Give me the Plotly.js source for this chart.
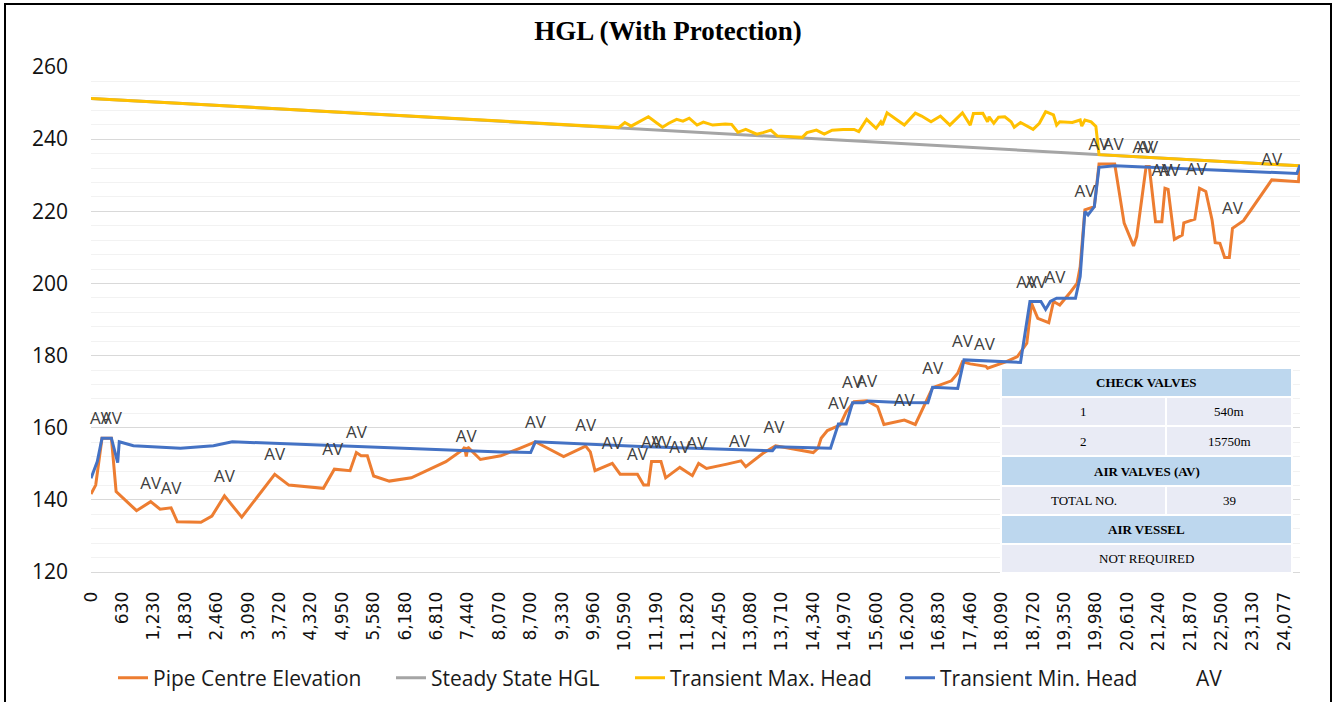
<!DOCTYPE html>
<html>
<head>
<meta charset="utf-8">
<script src="https://cdn.plot.ly/plotly-3.0.1.min.js"></script>
<style>
  html, body { margin: 0; padding: 0; background: #fff; }
  #chart { width: 1336px; height: 702px; }
</style>
</head>
<body>
<div id="chart"></div>
<script>
// ---------------- DATA ----------------
// Category-axis tick labels (chainage, m)
const tickLabels = ['0','630','1,230','1,830','2,460','3,090','3,720','4,320','4,950','5,580','6,180','6,810','7,440','8,070','8,700','9,330','9,960','10,590','11,190','11,820','12,450','13,080','13,710','14,340','14,970','15,600','16,200','16,830','17,460','18,090','18,720','19,350','19,980','20,610','21,240','21,870','22,500','23,130','24,077'];
const POINTS_PER_LABEL = 20;   // category points between two labels
const LAST_POINT = 770;        // last category index

// Pipe Centre Elevation (category index, m)
const pipeIdx = [0,3,7,13,16,29,38,44,51,55,70,77,85,96,117,126,148,155,165,169,172,176,180,190,204,226,237,238,239,240,248,261,273,283,301,315,318,321,332,337,348,352,355,357,363,366,375,383,387,392,405,414,417,428,436,458,460,463,465,469,477,481,486,494,501,505,518,525,536,548,552,555,560,570,571,583,590,596,599,603,610,613,617,624,628,630,633,639,642,652,658,664,666,672,674,678,682,684,686,690,695,696,703,706,710,714,716,719,722,725,727,734,752,769,770];
const pipeElev = [141.6,144.1,157.1,157.1,142.3,137.0,139.5,137.4,137.8,133.9,133.8,135.5,141.1,135.2,147.1,144.1,143.2,148.5,148.1,153.1,152.2,152.2,146.6,145.2,146.1,150.6,154.0,154.6,152.0,154.6,151.2,152.2,154.3,156.1,152.0,154.9,153.3,148.1,150.1,147.1,147.1,144.1,144.1,150.6,150.6,146.1,149.0,146.7,150.1,148.7,149.9,150.8,149.2,152.9,155.0,153.3,153.1,154.3,157.1,159.2,160.7,164.4,167.2,167.5,165.8,160.9,162.1,160.9,171.1,173.0,175.1,178.3,177.7,177.0,176.5,178.3,179.7,183.4,194.5,190.3,189.1,195.0,194.0,197.7,200.0,204.6,220.4,221.3,233.1,233.1,216.7,210.4,213.0,232.4,232.4,217.1,217.1,226.4,226.1,212.2,213.4,216.8,217.8,226.4,225.5,217.6,211.3,211.1,207.2,207.2,215.3,217.4,228.7,228.2,232.4];

// Steady State HGL
const steadyIdx = [0,770];
const steadyHGL = [251.3,232.6];

// Transient Max. Head
const maxIdx = [0,336,340,344,355,364,368,373,377,381,386,390,396,404,408,412,417,424,428,433,437,453,456,462,467,472,479,486,489,494,500,503,504,507,515,518,525,529,535,541,547,555,560,562,568,571,572,575,578,582,586,588,592,596,600,604,608,613,615,617,625,630,631,633,637,640,642,770];
const maxHead = [251.3,243.2,244.6,243.6,246.2,243.3,244.4,245.5,245.0,245.8,243.9,244.7,243.9,244.2,244.1,241.9,242.7,241.4,241.8,242.5,240.9,240.5,241.8,242.5,241.4,242.5,242.7,242.7,242.1,245.5,243.0,244.8,243.9,247.3,244.8,243.9,247.2,246.4,244.8,246.4,243.9,247.3,243.9,247.1,247.2,244.8,246.2,244.4,246.1,246.2,244.8,243.3,244.6,243.6,242.7,244.4,247.6,246.7,243.9,244.8,244.6,245.3,243.6,245.3,244.8,243.5,235.7,232.6];

// Transient Min. Head
const minIdx = [0,4,7,13,17,18,27,57,78,90,261,280,283,354,434,436,471,476,481,485,492,495,515,533,536,552,556,586,592,598,605,608,611,615,627,630,633,635,639,642,652,768,770];
const minHead = [146.0,150.6,157.1,157.1,150.3,156.1,155.0,154.3,155.0,156.1,153.3,153.1,156.1,154.7,153.6,154.7,154.3,161.0,161.0,166.9,166.9,167.4,167.0,166.9,171.2,170.9,178.8,178.3,178.1,195.0,195.0,192.8,195.0,195.9,195.9,201.9,219.9,219.0,221.3,232.2,232.6,230.5,232.8];

// Air valves (AV)
const avIdx = [6,13,38,51,85,117,154,169,239,283,315,332,348,357,363,375,386,413,435,476,485,494,518,536,555,569,596,602,614,633,642,651,670,673,682,687,704,727,752];
const avElev = [157.1,157.1,139.2,137.8,141.1,147.2,148.5,153.3,152.2,156.1,155.2,150.3,147.2,150.6,150.6,149.0,150.3,150.9,154.7,161.4,167.2,167.5,162.2,171.1,178.5,177.7,194.9,194.9,196.3,220.2,233.1,233.1,232.4,232.4,225.9,225.9,226.1,215.3,228.9];

// Summary table text
const checkValveNo = ['1','2'];
const checkValveAt = ['540m','15750m'];
const airValveTotal = '39';
const airVessel = 'NOT REQUIRED';

// ---------------- PLOT ----------------
const L = 91, T = 67, W = 1209, H = 505;
const fx = px => (px - L) / W;
const fy = py => (T + H - py) / H;

const traces = [
  {x: pipeIdx, y: pipeElev, name: 'Pipe Centre Elevation', mode: 'lines', legend: 'legend',
   line: {color: '#ED7D31', width: 3}},
  {x: steadyIdx, y: steadyHGL, name: 'Steady State HGL', mode: 'lines', legend: 'legend2',
   line: {color: '#A5A5A5', width: 3}},
  {x: maxIdx, y: maxHead, name: 'Transient Max. Head', mode: 'lines', legend: 'legend3',
   line: {color: '#FFC000', width: 3}},
  {x: minIdx, y: minHead, name: 'Transient Min. Head', mode: 'lines', legend: 'legend4',
   line: {color: '#4472C4', width: 3}},
  {x: avIdx, y: avElev, name: 'AV', mode: 'markers+text', showlegend: false,
   text: avIdx.map(() => 'AV'), textposition: 'top center',
   marker: {size: 14, color: 'rgba(0,0,0,0)'},
   textfont: {family: 'Open Sans', size: 17, color: '#404040'}, cliponaxis: false},
  {x: [null], y: [null], name: 'AV', mode: 'lines', legend: 'legend5',
   line: {color: 'rgba(0,0,0,0)', width: 3}}
];

// table shapes + annotations
const blue = '#BDD7EE', grey = '#E9EBF5';
const tx0 = 1001, tx1 = 1292, tmid = 1166;
const rows = [368, 397, 426, 456, 486, 515, 544, 573];
const shapes = [];
const annotations = [];
function cell(x0, x1, y0, y1, fill) {
  shapes.push({type: 'rect', xref: 'paper', yref: 'paper', layer: 'above',
    x0: fx(x0), x1: fx(x1), y0: fy(y0), y1: fy(y1),
    fillcolor: fill, line: {color: '#ffffff', width: 2}});
}
function label(text, xc, yc, bold) {
  annotations.push({xref: 'paper', yref: 'paper', x: fx(xc), y: fy(yc),
    xanchor: 'center', yanchor: 'middle', showarrow: false,
    text: bold ? '<b>' + text + '</b>' : text,
    font: {family: 'Liberation Serif', size: 13, color: '#000'}});
}
const lc = (tx0 + tmid) / 2, rc = (tmid + tx1) / 2, cc = (tx0 + tx1) / 2;
const mid = i => (rows[i] + rows[i + 1]) / 2;
cell(tx0, tx1, rows[0], rows[1], blue); label('CHECK VALVES', cc, mid(0), true);
for (let k = 0; k < 2; k++) {
  cell(tx0, tmid, rows[1 + k], rows[2 + k], grey);
  cell(tmid, tx1, rows[1 + k], rows[2 + k], grey);
  label(checkValveNo[k], lc, mid(1 + k));
  label(checkValveAt[k], rc, mid(1 + k));
}
cell(tx0, tx1, rows[3], rows[4], blue); label('AIR VALVES (AV)', cc, mid(3), true);
cell(tx0, tmid, rows[4], rows[5], grey); cell(tmid, tx1, rows[4], rows[5], grey);
label('TOTAL NO.', lc, mid(4)); label(airValveTotal, rc, mid(4));
cell(tx0, tx1, rows[5], rows[6], blue); label('AIR VESSEL', cc, mid(5), true);
cell(tx0, tx1, rows[6], rows[7], grey); label(airVessel, cc, mid(6));

// outer chart border
shapes.push({type: 'rect', xref: 'paper', yref: 'paper', layer: 'above',
  x0: fx(5), x1: fx(1331), y0: fy(4), y1: fy(712),
  line: {color: '#000', width: 2}, fillcolor: 'rgba(0,0,0,0)'});

// one legend box per entry, placed like the original's legend row
const legendFont = {family: 'Open Sans', size: 21, color: '#1a1a1a'};
const legendY = 1 - 678 / 702;
function legendAt(leftPx) {
  return {orientation: 'h', x: leftPx / 1336, xref: 'container', xanchor: 'left',
    y: legendY, yref: 'container', yanchor: 'middle',
    font: legendFont, bgcolor: 'rgba(0,0,0,0)', borderwidth: 0};
}

const layout = {
  width: 1336, height: 702,
  margin: {l: L, r: 1336 - L - W, t: T, b: 702 - T - H},
  paper_bgcolor: '#fff', plot_bgcolor: '#fff',
  title: {text: '<b>HGL (With Protection)</b>', x: 0.5, xref: 'container',
    y: 1 - 31 / 702, yref: 'container', yanchor: 'middle',
    font: {family: 'Liberation Serif', size: 27, color: '#000'}},
  xaxis: {type: 'linear', range: [0, LAST_POINT],
    tickmode: 'array', tickvals: tickLabels.map((_, j) => j * POINTS_PER_LABEL), ticktext: tickLabels,
    tickangle: -90, ticks: '', showgrid: false, zeroline: false,
    showline: true, linecolor: '#D9D9D9', linewidth: 1,
    tickfont: {family: 'DejaVu Sans', size: 17, color: '#111'}, ticklabelstandoff: 12},
  yaxis: {range: [120, 260], dtick: 20, tick0: 120, ticks: '', zeroline: false,
    showgrid: true, gridcolor: '#D9D9D9', gridwidth: 1,
    minor: {dtick: 4, showgrid: true, gridcolor: '#F2F2F2', gridwidth: 1},
    tickfont: {family: 'Open Sans', size: 21, color: '#111'}, ticklabelstandoff: 22},
  showlegend: true,
  legend: legendAt(113),
  legend2: legendAt(391),
  legend3: legendAt(630),
  legend4: legendAt(900),
  legend5: legendAt(1156),
  shapes: shapes,
  annotations: annotations,
  hovermode: false
};

Plotly.newPlot('chart', traces, layout, {displayModeBar: false, staticPlot: true});
</script>
</body>
</html>
